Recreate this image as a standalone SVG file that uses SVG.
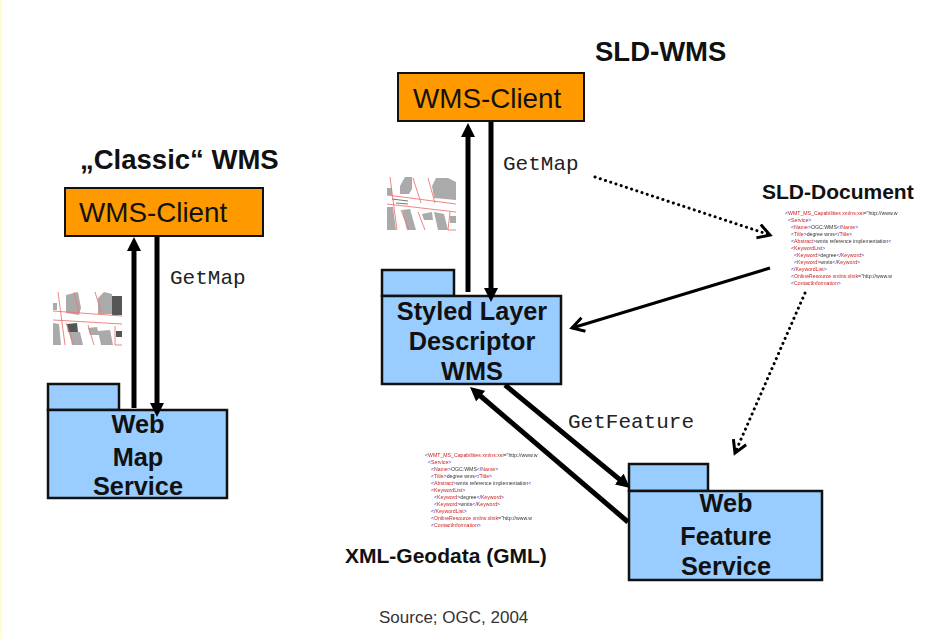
<svg xmlns="http://www.w3.org/2000/svg" width="928" height="639" viewBox="0 0 928 639">
<style>
.client{fill:#ff9900;stroke:#111;stroke-width:2}
.pkg{fill:#99ccff;stroke:#111;stroke-width:2.5}
.ct{font:27.8px "Liberation Sans",Arial,sans-serif;fill:#111}
.pt{font:bold 25.3px "Liberation Sans",Arial,sans-serif;fill:#111;text-anchor:middle}
.h{font:bold 27.5px "Liberation Sans",Arial,sans-serif;fill:#111}
.h2{font:bold 21px "Liberation Sans",Arial,sans-serif;fill:#111}
.m{font:21px "Liberation Mono","Courier New",monospace;fill:#222}
.s{fill:none;stroke:#000;stroke-width:5}
.t{fill:none;stroke:#000;stroke-width:3}
.d{fill:none;stroke:#000;stroke-width:3;stroke-linecap:round;stroke-dasharray:0.1 5.4}
.x{font:5.2px "Liberation Sans",Arial,sans-serif;fill:#333;filter:url(#b)}
.r{fill:#c22}.u{fill:#33c}
.bld{fill:#aaa}.dk{fill:#555}
.rl{stroke:#e77;stroke-width:0.9;fill:none}
</style>
<defs>
<filter id="b" x="-5%" y="-20%" width="110%" height="140%"><feGaussianBlur stdDeviation="0.3"/></filter>
<filter id="b2" x="-5%" y="-5%" width="110%" height="110%"><feGaussianBlur stdDeviation="0.5"/></filter>
<marker id="ah" markerUnits="userSpaceOnUse" markerWidth="16" markerHeight="14" refX="4" refY="7" orient="auto"><path d="M0 0L14 7L0 14z" fill="#000"/></marker>
<marker id="oh" markerUnits="userSpaceOnUse" markerWidth="18" markerHeight="18" refX="13" refY="8" orient="auto"><path d="M1 1L13 8L1 15" fill="none" stroke="#000" stroke-width="3"/></marker>
<g id="xml">
<text class="x" y="0"><tspan class="u">&lt;</tspan><tspan class="r">WMT_MS_Capabilities xmlns:xsi</tspan>="http://www.w</text>
<text class="x" x="3" y="7"><tspan class="u">&lt;</tspan><tspan class="r">Service</tspan><tspan class="u">&gt;</tspan></text>
<text class="x" x="6" y="14"><tspan class="u">&lt;</tspan><tspan class="r">Name</tspan><tspan class="u">&gt;</tspan>OGC:WMS<tspan class="u">&lt;/</tspan><tspan class="r">Name</tspan><tspan class="u">&gt;</tspan></text>
<text class="x" x="6" y="21"><tspan class="u">&lt;</tspan><tspan class="r">Title</tspan><tspan class="u">&gt;</tspan>degree wms<tspan class="u">&lt;/</tspan><tspan class="r">Title</tspan><tspan class="u">&gt;</tspan></text>
<text class="x" x="6" y="28"><tspan class="u">&lt;</tspan><tspan class="r">Abstract</tspan><tspan class="u">&gt;</tspan>wmts reference implementation<tspan class="u">&lt;</tspan></text>
<text class="x" x="6" y="35"><tspan class="u">&lt;</tspan><tspan class="r">KeywordList</tspan><tspan class="u">&gt;</tspan></text>
<text class="x" x="9" y="42"><tspan class="u">&lt;</tspan><tspan class="r">Keyword</tspan><tspan class="u">&gt;</tspan>degree<tspan class="u">&lt;/</tspan><tspan class="r">Keyword</tspan><tspan class="u">&gt;</tspan></text>
<text class="x" x="9" y="49"><tspan class="u">&lt;</tspan><tspan class="r">Keyword</tspan><tspan class="u">&gt;</tspan>wmts<tspan class="u">&lt;/</tspan><tspan class="r">Keyword</tspan><tspan class="u">&gt;</tspan></text>
<text class="x" x="6" y="56"><tspan class="u">&lt;/</tspan><tspan class="r">KeywordList</tspan><tspan class="u">&gt;</tspan></text>
<text class="x" x="6" y="63"><tspan class="u">&lt;</tspan><tspan class="r">OnlineResource xmlns:xlink</tspan>="http://www.w</text>
<text class="x" x="6" y="70"><tspan class="u">&lt;</tspan><tspan class="r">ContactInformation</tspan><tspan class="u">&gt;</tspan></text>
</g>
</defs>
<rect width="928" height="639" fill="#fff"/>
<rect width="2" height="639" fill="#ffffcc"/>
<text class="h" x="80" y="169">„Classic“ WMS</text>
<text class="h" x="595" y="61">SLD-WMS</text>
<text class="h2" x="762" y="199">SLD-Document</text>
<text class="h2" x="345" y="563">XML-Geodata (GML)</text>
<text x="379" y="623" style="font:17px 'Liberation Sans',Arial,sans-serif;fill:#333">Source; OGC, 2004</text>
<g id="map-classic" filter="url(#b2)">
<path class="bld" d="M53 303h4v7h-4zM66 295l12-3 3 16-2 7-13-2zM98 298l6-6 8 2 0 20-14 0zM53 323l6 1 2 21h-8zM69 332l11 0 3 13h-11zM88 328l9-1 2 8h-9zM98 331l12-1 3 15h-12z"/>
<path class="dk" d="M112 296h10v19h-10zM67 324l10-1 1 9h-10zM116 331h6v6h-6z"/>
<path class="rl" d="M58 292l7 53M53 311l69 5M53 320l69 4M74 292l5 21M95 292l6 20M66 323l8 22M88 325l6 20M115 326l0 19h7"/>
</g>
<g id="map-sld" filter="url(#b2)">
<path class="bld" d="M387 188h5v7h-5zM400 186l5-9h7v12l-3 5-9 0zM432 186l4-8h12l8 4v18l-22-2zM387 207h6l3 23h-9zM402 210l8-1 6 21h-9zM422 214l10-2 1 8h-9zM434 212l10 2 4 16h-10zM450 216l6 0 0 7-6 0z"/>
<path class="rl" d="M390 177l7 53M387 195l69 9M387 204l69 8M413 178l8 25M428 178l7 25M401 210l8 20M418 212l7 18M450 212l-2 18h8"/>
<path d="M392 199l16 2M396 203l12 1" stroke="#777" stroke-width="1" fill="none"/>
</g>
<g id="classic-client"><rect class="client" x="65" y="188" width="198" height="48"/><text class="ct" x="79" y="222">WMS-Client</text></g>
<g id="sld-client"><rect class="client" x="398" y="73" width="186" height="48"/><text class="ct" x="413" y="108">WMS-Client</text></g>
<g id="web-map-service">
<rect class="pkg" x="48" y="384" width="71" height="26"/>
<rect class="pkg" x="48" y="410" width="179" height="88"/>
<text class="pt" x="138" y="433">Web</text><text class="pt" x="138" y="466">Map</text><text class="pt" x="138" y="495">Service</text>
</g>
<g id="sld-wms">
<rect class="pkg" x="382" y="270" width="72" height="26"/>
<rect class="pkg" x="382" y="296" width="179" height="88"/>
<text class="pt" x="472" y="320">Styled Layer</text><text class="pt" x="472" y="350">Descriptor</text><text class="pt" x="472" y="380">WMS</text>
</g>
<g id="web-feature-service">
<rect class="pkg" x="629" y="464" width="79" height="27"/>
<rect class="pkg" x="629" y="491" width="193" height="89"/>
<text class="pt" x="726" y="512">Web</text><text class="pt" x="726" y="545">Feature</text><text class="pt" x="726" y="575">Service</text>
</g>
<g id="connectors">
<path class="s" d="M134 408V247" marker-end="url(#ah)"/>
<path class="s" d="M157 237V407" marker-end="url(#ah)"/>
<path class="s" d="M468 292V133" marker-end="url(#ah)"/>
<path class="s" d="M491 122V292" marker-end="url(#ah)"/>
<path class="d" d="M595 177L770 235" marker-end="url(#oh)"/>
<path class="t" d="M770 268L572 328" marker-end="url(#oh)"/>
<path class="d" d="M805 293L735 453" marker-end="url(#oh)"/>
<path class="s" d="M505 385L622.3 481.6" marker-end="url(#ah)"/>
<path class="s" d="M628 522L477.6 393.5" marker-end="url(#ah)"/>
</g>
<text class="m" x="170" y="284">GetMap</text>
<text class="m" x="503" y="170">GetMap</text>
<text class="m" x="568" y="428">GetFeature</text>
<g id="sld-document"><use href="#xml" x="785" y="215"/></g>
<g id="gml-document"><use href="#xml" x="425" y="457"/></g>
</svg>
